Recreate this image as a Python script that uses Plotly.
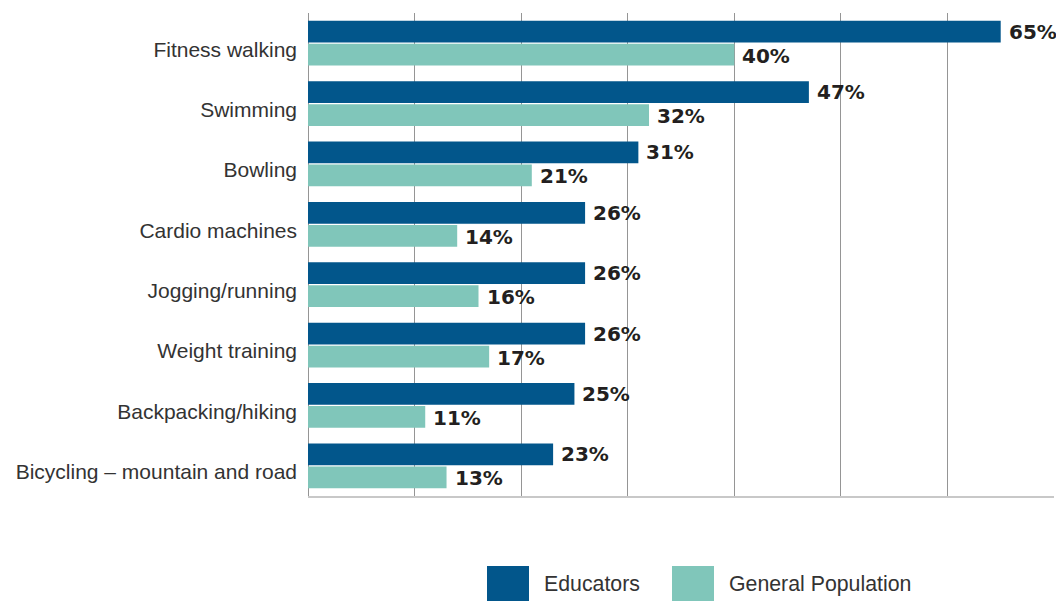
import plotly.graph_objects as go

# Share of each group taking part in the activity (%)
activities = [
    "Fitness walking",
    "Swimming",
    "Bowling",
    "Cardio machines",
    "Jogging/running",
    "Weight training",
    "Backpacking/hiking",
    "Bicycling – mountain and road",
]
educators = [65, 47, 31, 26, 26, 26, 25, 23]
general_population = [40, 32, 21, 14, 16, 17, 11, 13]

series_names = ["Educators", "General Population"]
colors = ["#02568B", "#80C6BA"]

fig = go.Figure()
for name, vals, col in zip(series_names, [educators, general_population], colors):
    fig.add_trace(go.Bar(
        y=activities, x=vals, name=name, orientation="h",
        marker=dict(color=col, line=dict(width=0)),
        showlegend=False,
    ))

# Value labels just past the end of each bar
annotations = []
for vals, shift in [(educators, 11.5), (general_population, -12.5)]:
    for cat, v in zip(activities, vals):
        annotations.append(dict(
            x=v, y=cat, xref="x", yref="y", text=f"{v}%",
            xanchor="left", yanchor="middle", xshift=6, yshift=shift,
            showarrow=False,
            font=dict(family="DejaVu Sans", size=20, color="#231F20", weight="bold"),
        ))

# Legend drawn as large swatches with labels below the plot
legend_items = [(487, "Educators"), (672, "General Population")]
shapes = []
for (x0, label), col in zip(legend_items, colors):
    shapes.append(dict(
        type="rect", xref="paper", yref="paper",
        x0=(x0 - 308) / 746, x1=(x0 + 42 - 308) / 746,
        y0=-(566 - 496) / 483, y1=-(601 - 496) / 483,
        fillcolor=col, line=dict(width=0),
    ))
    annotations.append(dict(
        x=(x0 + 55 - 308) / 746, y=-(584 - 496) / 483,
        xref="paper", yref="paper", text=label,
        xanchor="left", yanchor="middle", showarrow=False,
        font=dict(family="Liberation Sans", size=21.3, color="#333333"),
    ))

fig.update_layout(
    width=1056, height=601,
    margin=dict(l=308, r=2, t=13, b=105),
    paper_bgcolor="white", plot_bgcolor="white",
    barmode="group", bargap=0.24, bargroupgap=0.05,
    annotations=annotations, shapes=shapes,
    xaxis=dict(
        range=[0, 70], dtick=10, showticklabels=False,
        showgrid=True, gridcolor="#959595", gridwidth=1.2,
        zeroline=True, zerolinecolor="#959595", zerolinewidth=1.2,
        showline=True, linecolor="#C8C8C8", linewidth=2,
        ticks="",
    ),
    yaxis=dict(
        autorange="reversed", showgrid=False, ticks="",
        ticklabelstandoff=10, ticklabelshift=-6,
        tickfont=dict(family="Liberation Sans", size=21, color="#333333"),
    ),
)

fig.write_html("out.html")
